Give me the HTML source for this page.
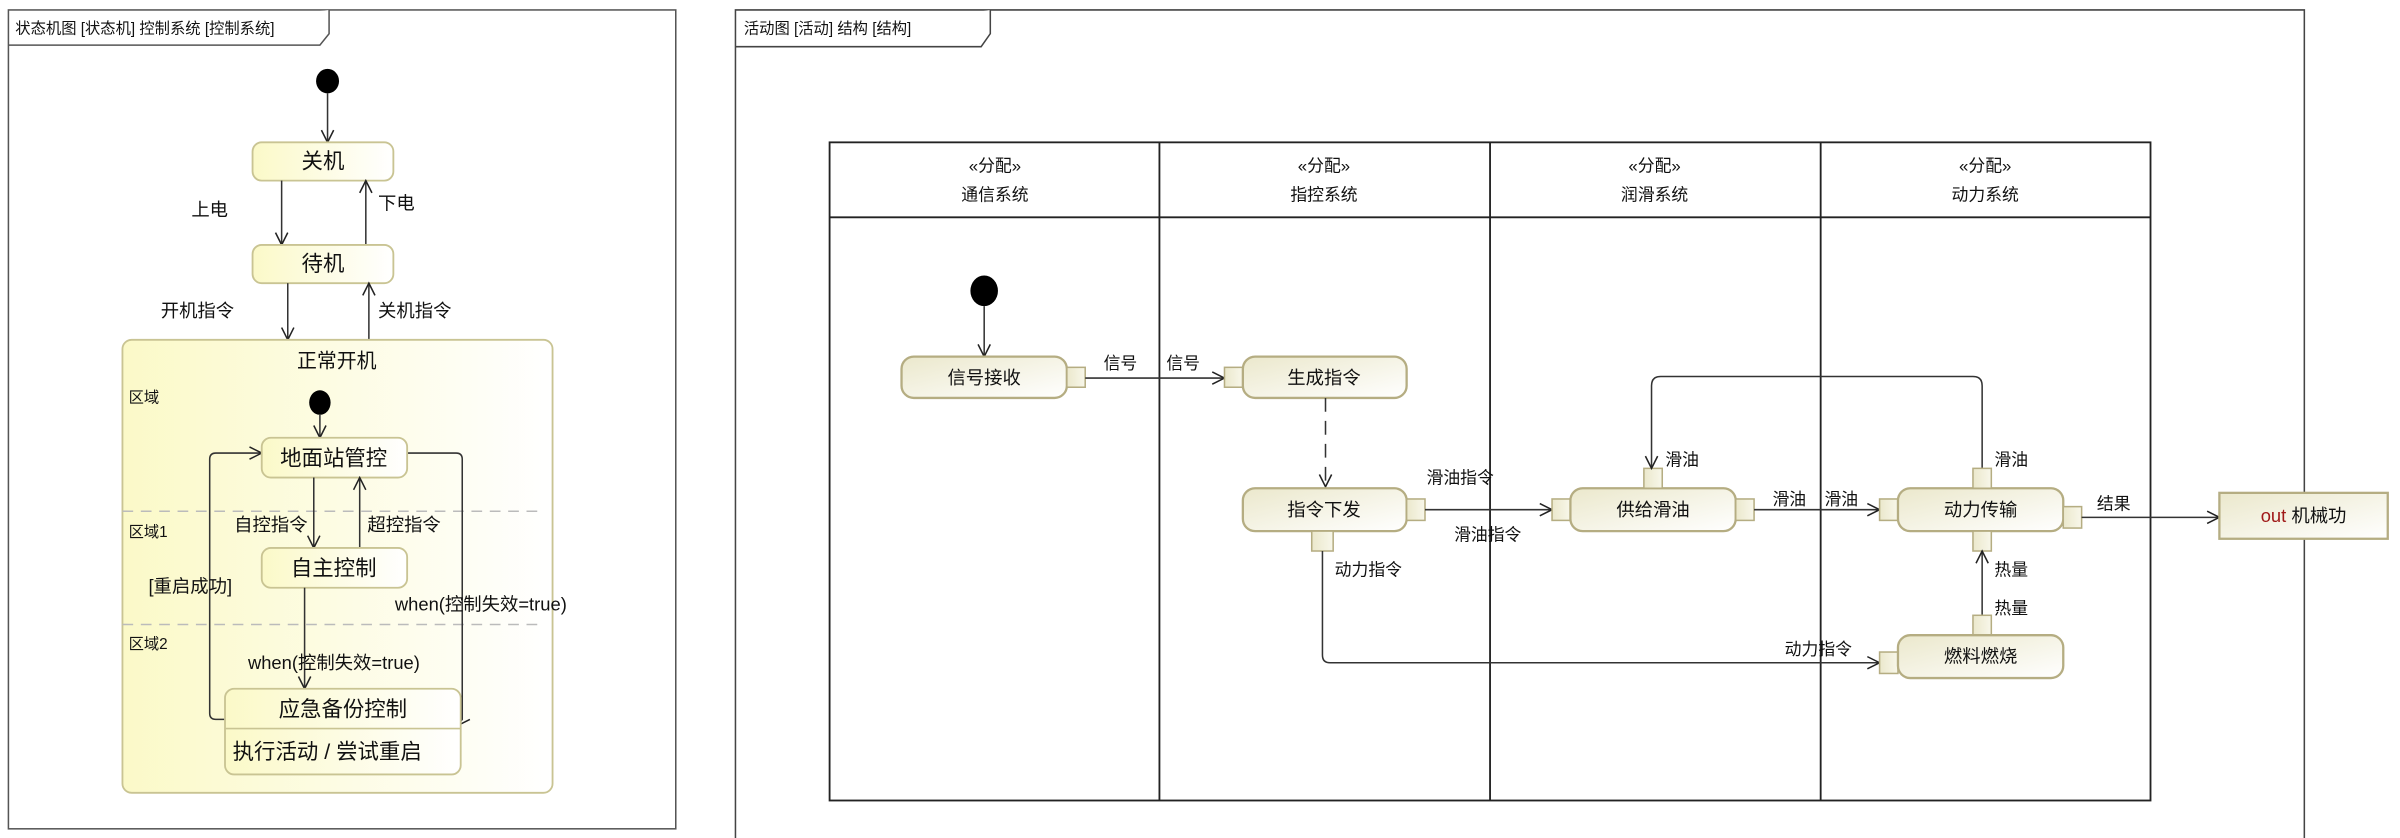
<!DOCTYPE html>
<html><head><meta charset="utf-8"><style>
html,body{margin:0;padding:0;background:#fff;}
svg{display:block;}
text{font-family:"Liberation Sans","Noto Sans CJK SC",sans-serif;fill:#111;}
</style></head><body>
<svg width="2400" height="838" viewBox="0 0 1568 547.5" preserveAspectRatio="none" xmlns="http://www.w3.org/2000/svg">
<defs>
<linearGradient id="sg" x1="0" y1="0" x2="1" y2="0"><stop offset="0" stop-color="#fbf9c8"/><stop offset="1" stop-color="#ffffff"/></linearGradient>
<linearGradient id="ag" x1="0" y1="0" x2="1" y2="1"><stop offset="0" stop-color="#ebe8cc"/><stop offset="1" stop-color="#ffffff"/></linearGradient>
<linearGradient id="pg" x1="0" y1="0" x2="1" y2="0"><stop offset="0" stop-color="#ebe8cc"/><stop offset="1" stop-color="#f8f7ea"/></linearGradient>
<marker id="a" markerWidth="10" markerHeight="10" refX="9" refY="5" orient="auto" markerUnits="userSpaceOnUse"><path d="M1,1 L9,5 L1,9" fill="none" stroke="#222" stroke-width="1"/></marker>
</defs>
<style>
.ln{stroke:#333;stroke-width:1;fill:none}
.st{fill:url(#sg);stroke:#c9c493;stroke-width:1.2}
.ac{fill:url(#ag);stroke:#b5ad82;stroke-width:1.5}
.pin{fill:url(#pg);stroke:#b5ad82;stroke-width:1}
</style>

<!-- LEFT FRAME -->
<rect x="5.5" y="6.5" width="436" height="535" fill="none" stroke="#555"/>
<path d="M5.5,29.5 H209 L215,22 V6.5" fill="#fff" stroke="#555"/>
<text x="10" y="22" font-size="10">状态机图 [状态机] 控制系统 [控制系统]</text>

<ellipse cx="214" cy="53" rx="7.5" ry="8" fill="#000"/>
<path class="ln" d="M214,61 V93" marker-end="url(#a)"/>
<rect class="st" x="165" y="93" width="92" height="25" rx="6"/>
<text x="211" y="110" font-size="14" text-anchor="middle">关机</text>
<path class="ln" d="M184,118 V160" marker-end="url(#a)"/>
<path class="ln" d="M239,160 V118" marker-end="url(#a)"/>
<text x="125" y="141" font-size="12">上电</text>
<text x="247" y="137" font-size="12">下电</text>
<rect class="st" x="165" y="160" width="92" height="25" rx="6"/>
<text x="211" y="177" font-size="14" text-anchor="middle">待机</text>
<path class="ln" d="M188,185 V222" marker-end="url(#a)"/>
<path class="ln" d="M241,222 V185" marker-end="url(#a)"/>
<text x="105" y="207" font-size="12">开机指令</text>
<text x="247" y="207" font-size="12">关机指令</text>

<rect class="st" x="80" y="222" width="281" height="296" rx="6"/>
<text x="220" y="240" font-size="13" text-anchor="middle">正常开机</text>
<text x="84" y="263" font-size="10">区域</text>
<ellipse cx="209" cy="263" rx="7" ry="8" fill="#000"/>
<path class="ln" d="M209,271 V286" marker-end="url(#a)"/>
<line x1="80" y1="334" x2="356" y2="334" stroke="#bbb" stroke-dasharray="7,5"/>
<line x1="80" y1="408" x2="356" y2="408" stroke="#bbb" stroke-dasharray="7,5"/>
<text x="84" y="351" font-size="10">区域1</text>
<text x="84" y="424" font-size="10">区域2</text>

<path class="ln" d="M147,470 H141 Q137,470 137,466 V300 Q137,296 141,296 H171" marker-end="url(#a)"/>
<path class="ln" d="M266,296 H298 Q302,296 302,300 V470 L299,474" marker-end="url(#a)"/>
<rect class="st" x="171" y="286" width="95" height="26" rx="6"/>
<text x="218" y="304" font-size="14" text-anchor="middle">地面站管控</text>
<path class="ln" d="M205,312 V358" marker-end="url(#a)"/>
<path class="ln" d="M235,358 V312" marker-end="url(#a)"/>
<text x="153" y="347" font-size="12">自控指令</text>
<text x="240" y="347" font-size="12">超控指令</text>
<rect class="st" x="171" y="358" width="95" height="26" rx="6"/>
<text x="218" y="376" font-size="14" text-anchor="middle">自主控制</text>
<text x="97" y="387" font-size="12">[重启成功]</text>
<text x="258" y="399" font-size="12">when(控制失效=true)</text>
<path class="ln" d="M199,384 V450" marker-end="url(#a)"/>
<text x="162" y="437" font-size="12">when(控制失效=true)</text>
<rect class="st" x="147" y="450" width="154" height="56" rx="6"/>
<line x1="147" y1="476" x2="301" y2="476" stroke="#c9c493"/>
<text x="224" y="468" font-size="14" text-anchor="middle">应急备份控制</text>
<text x="152" y="496" font-size="14">执行活动 / 尝试重启</text>

<!-- RIGHT FRAME -->
<path d="M480.5,548 V6.5 H1505.5 V548" fill="none" stroke="#444"/>
<path d="M480.5,30.5 H641 L647,22 V6.5" fill="#fff" stroke="#444"/>
<text x="486" y="22" font-size="10">活动图 [活动] 结构 [结构]</text>

<rect x="542" y="93" width="863" height="430" fill="none" stroke="#222" stroke-width="1.2"/>
<line x1="542" y1="142" x2="1405" y2="142" stroke="#222" stroke-width="1.2"/>
<line x1="757.5" y1="93" x2="757.5" y2="523" stroke="#222" stroke-width="1.2"/>
<line x1="973.5" y1="93" x2="973.5" y2="523" stroke="#222" stroke-width="1.2"/>
<line x1="1189.5" y1="93" x2="1189.5" y2="523" stroke="#222" stroke-width="1.2"/>
<g font-size="11" text-anchor="middle">
<text x="650" y="112">«分配»</text><text x="650" y="131">通信系统</text>
<text x="865" y="112">«分配»</text><text x="865" y="131">指控系统</text>
<text x="1081" y="112">«分配»</text><text x="1081" y="131">润滑系统</text>
<text x="1297" y="112">«分配»</text><text x="1297" y="131">动力系统</text>
</g>

<ellipse cx="643" cy="190" rx="9" ry="10" fill="#000"/>
<path class="ln" d="M643,200 V233" marker-end="url(#a)"/>
<rect class="ac" x="589" y="233" width="108" height="27" rx="8"/>
<text x="643" y="251" font-size="12" text-anchor="middle">信号接收</text>
<rect class="pin" x="697" y="240" width="12" height="13"/>
<path class="ln" d="M709,247 H800" marker-end="url(#a)"/>
<text x="721" y="241" font-size="11">信号</text>
<text x="762" y="241" font-size="11">信号</text>
<rect class="pin" x="800" y="240" width="12" height="13"/>
<rect class="ac" x="812" y="233" width="107" height="27" rx="8"/>
<text x="865" y="251" font-size="12" text-anchor="middle">生成指令</text>
<path class="ln" d="M866,260 V318" stroke-dasharray="9,6" marker-end="url(#a)"/>

<rect class="ac" x="812" y="319" width="107" height="28" rx="8"/>
<text x="865" y="337" font-size="12" text-anchor="middle">指令下发</text>
<rect class="pin" x="919" y="326" width="12" height="14"/>
<rect class="pin" x="857" y="347" width="14" height="13"/>
<text x="932" y="316" font-size="11">滑油指令</text>
<text x="950" y="353" font-size="11">滑油指令</text>
<path class="ln" d="M931,333 H1014" marker-end="url(#a)"/>
<path class="ln" d="M864,360 V428 Q864,433 869,433 H1228" marker-end="url(#a)"/>
<text x="872" y="376" font-size="11">动力指令</text>
<text x="1166" y="428" font-size="11">动力指令</text>

<rect class="pin" x="1014" y="326" width="12" height="14"/>
<rect class="ac" x="1026" y="319" width="108" height="28" rx="8"/>
<text x="1080" y="337" font-size="12" text-anchor="middle">供给滑油</text>
<rect class="pin" x="1134" y="326" width="12" height="14"/>
<rect class="pin" x="1074" y="306" width="12" height="13"/>
<text x="1088" y="304" font-size="11">滑油</text>
<path class="ln" d="M1146,333 H1228" marker-end="url(#a)"/>
<text x="1158" y="330" font-size="11">滑油</text>
<text x="1192" y="330" font-size="11">滑油</text>

<path class="ln" d="M1295,306 V252 Q1295,246 1289,246 H1085 Q1079,246 1079,252 V306" marker-end="url(#a)"/>
<rect class="pin" x="1228" y="326" width="12" height="14"/>
<rect class="ac" x="1240" y="319" width="108" height="28" rx="8"/>
<text x="1294" y="337" font-size="12" text-anchor="middle">动力传输</text>
<rect class="pin" x="1289" y="306" width="12" height="13"/>
<rect class="pin" x="1289" y="347" width="12" height="13"/>
<rect class="pin" x="1348" y="331" width="12" height="14"/>
<text x="1303" y="304" font-size="11">滑油</text>
<text x="1303" y="376" font-size="11">热量</text>
<text x="1303" y="401" font-size="11">热量</text>
<path class="ln" d="M1295,402 V360" marker-end="url(#a)"/>
<rect class="pin" x="1289" y="402" width="12" height="13"/>
<rect class="pin" x="1228" y="426" width="12" height="14"/>
<rect class="ac" x="1240" y="415" width="108" height="28" rx="8"/>
<text x="1294" y="433" font-size="12" text-anchor="middle">燃料燃烧</text>

<path class="ln" d="M1360,338 H1450" marker-end="url(#a)"/>
<text x="1370" y="333" font-size="11">结果</text>
<rect x="1450" y="322" width="110" height="30" fill="url(#ag)" stroke="#b5ad82" stroke-width="1.5"/>
<text x="1505" y="341" font-size="12" text-anchor="middle"><tspan fill="#a01818">out</tspan> 机械功</text>
</svg>
</body></html>
